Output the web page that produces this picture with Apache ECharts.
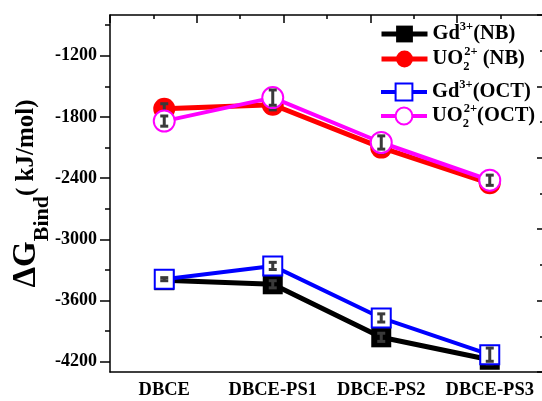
<!DOCTYPE html>
<html>
<head>
<meta charset="utf-8">
<script src="https://cdn.jsdelivr.net/npm/echarts@6/dist/echarts.min.js"></script>
<style>
  html, body { margin: 0; padding: 0; background: #fff; }
  #chart { width: 542px; height: 401px; }
</style>
</head>
<body>
<div id="chart"></div>
<script>
// Binding free energies (kJ/mol) per ligand
const categories = ['DBCE', 'DBCE-PS1', 'DBCE-PS2', 'DBCE-PS3'];
const gdNB  = [-3400, -3440, -3960, -4180];
const uoNB  = [-1720, -1680, -2100, -2450];
const gdOCT = [-3390, -3260, -3770, -4130];
const uoOCT = [-1840, -1610, -2050, -2420];
// Half-widths of the error bars
const gdNBErr  = [20, 35, 40, 40];
const uoNBErr  = [50, 50, 50, 40];
const gdOCTErr = [15, 35, 40, 65];
const uoOCTErr = [50, 75, 65, 50];
// Y axis labelled and minor tick positions
const yLabelTicks = [-4200, -3600, -3000, -2400, -1800, -1200];
const yMinorTicks = [-3900, -3300, -2700, -2100, -1500, -900];

const FONT = '"Liberation Serif", "Times New Roman", serif';
const AXIS = { color: '#000', width: 1.5 };

const chart = echarts.init(document.getElementById('chart'), null, { renderer: 'canvas' });

function errorBars(vals, errs, z) {
  return {
    type: 'custom',
    xAxisIndex: 0,
    yAxisIndex: 0,
    z: z,
    silent: true,
    data: vals.map((v, i) => [i, v - errs[i], v + errs[i]]),
    encode: { x: 0, y: [1, 2] },
    renderItem: function (params, api) {
      const lo = api.coord([api.value(0), api.value(1)]);
      const hi = api.coord([api.value(0), api.value(2)]);
      const w = 4;
      const st = { stroke: '#3a3a3a', lineWidth: 3 };
      return {
        type: 'group',
        children: [
          { type: 'line', shape: { x1: hi[0], y1: hi[1], x2: lo[0], y2: lo[1] }, style: st },
          { type: 'line', shape: { x1: hi[0] - w, y1: hi[1], x2: hi[0] + w, y2: hi[1] }, style: st },
          { type: 'line', shape: { x1: lo[0] - w, y1: lo[1], x2: lo[0] + w, y2: lo[1] }, style: st }
        ]
      };
    }
  };
}

const legendText = {
  'Gd3+(NB)':   '{m|Gd}{sup|3+}{m|(NB)}',
  'UO22+(NB)':  '{m|UO}{sub|2}{sup|2+}{m| (NB)}',
  'Gd3+(OCT)':  '{m|Gd}{sup|3+}{m|(OCT)}',
  'UO22+(OCT)': '{m|UO}{sub|2}{sup|2+}{m|(OCT)}'
};
const legendRich = {
  m:   { fontFamily: FONT, fontWeight: 'bold', fontSize: 20.5, color: '#000', lineHeight: 22 },
  sup: { fontFamily: FONT, fontWeight: 'bold', fontSize: 12.5, color: '#000', lineHeight: 13, padding: [0, 0, 15, 0] },
  sub: { fontFamily: FONT, fontWeight: 'bold', fontSize: 12.5, color: '#000', lineHeight: 13, padding: [15, 0, 0, 0], width: 1 }
};
const legendRows = [
  { name: 'Gd3+(NB)',   top: 20, line: 5 },
  { name: 'UO22+(NB)',  top: 45, line: 5 },
  { name: 'Gd3+(OCT)',  top: 78, line: 4 },
  { name: 'UO22+(OCT)', top: 102, line: 4 }
];

const option = {
  animation: false,
  backgroundColor: '#fff',
  grid: { left: 110, top: 15, width: 434, height: 357, containLabel: false, outerBoundsMode: 'none' },
  legend: legendRows.map(r => ({
    data: [r.name],
    left: 379,
    top: r.top,
    padding: 0,
    itemWidth: 46,
    itemHeight: 21,
    selectedMode: false,
    lineStyle: { width: r.line },
    formatter: n => legendText[n],
    textStyle: { rich: legendRich }
  })),
  xAxis: [
    {
      type: 'category', data: categories, position: 'bottom', boundaryGap: true,
      axisLine: { lineStyle: AXIS },
      axisTick: { alignWithLabel: true, length: 6, lineStyle: AXIS },
      axisLabel: { interval: 0, color: '#000', fontFamily: FONT, fontWeight: 'bold', fontSize: 18.5, margin: 9 },
      splitLine: { show: false }
    },
    {
      type: 'category', data: categories, position: 'bottom', boundaryGap: true,
      axisLine: { show: false },
      axisTick: { inside: true, length: 3, lineStyle: AXIS },
      axisLabel: { show: false },
      splitLine: { show: false }
    },
    {
      type: 'value', position: 'top', min: 0, max: 5, interval: 1,
      axisLine: { show: true, lineStyle: AXIS },
      axisTick: { inside: true, length: 8, lineStyle: AXIS },
      minorTick: { show: true, splitNumber: 2, length: 4, lineStyle: AXIS },
      axisLabel: { show: false },
      splitLine: { show: false }
    }
  ],
  yAxis: [
    {
      type: 'value', min: -4300, max: -800, position: 'left',
      axisLine: { show: true, lineStyle: AXIS },
      axisTick: { show: true, customValues: yLabelTicks, length: 10, lineStyle: AXIS },
      axisLabel: {
        customValues: yLabelTicks, margin: 13, color: '#000',
        fontFamily: FONT, fontWeight: 'bold', fontSize: 18,
        formatter: v => String(v)
      },
      splitLine: { show: false },
      name: '{big|ΔG}{sub|Bind}{m|( kJ/mol)}',
      nameLocation: 'middle',
      nameRotate: 90,
      nameGap: 66,
      nameMoveOverlap: false,
      nameTextStyle: {
        rich: {
          big: { fontFamily: FONT, fontWeight: 'bold', fontSize: 33, color: '#000', lineHeight: 35 },
          sub: { fontFamily: FONT, fontWeight: 'bold', fontSize: 22, color: '#000', lineHeight: 22, padding: [32, 0, 0, 0] },
          m:   { fontFamily: FONT, fontWeight: 'bold', fontSize: 25, color: '#000', lineHeight: 27 }
        }
      }
    },
    {
      type: 'value', min: -4300, max: -800, position: 'left',
      axisLine: { show: false },
      axisTick: { show: true, customValues: yMinorTicks, length: 5, lineStyle: AXIS },
      axisLabel: { show: false },
      splitLine: { show: false }
    },
    {
      type: 'value', min: 0, max: 5, interval: 1, position: 'right',
      axisLine: { show: true, lineStyle: AXIS },
      axisTick: { show: true, inside: true, length: 7, lineStyle: AXIS },
      minorTick: { show: true, splitNumber: 2, length: 4, lineStyle: AXIS },
      axisLabel: { show: false },
      splitLine: { show: false }
    }
  ],
  series: [
    {
      name: 'Gd3+(NB)', type: 'line', data: gdNB, z: 2,
      symbol: 'rect', symbolSize: 20, showSymbol: true,
      itemStyle: { color: '#000' }, lineStyle: { width: 5, color: '#000' }
    },
    errorBars(gdNB, gdNBErr, 3),
    {
      name: 'UO22+(NB)', type: 'line', data: uoNB, z: 4,
      symbol: 'circle', symbolSize: 22, showSymbol: true,
      itemStyle: { color: '#ff0000' }, lineStyle: { width: 5, color: '#ff0000' }
    },
    errorBars(uoNB, uoNBErr, 5),
    {
      name: 'Gd3+(OCT)', type: 'line', data: gdOCT, z: 6,
      symbol: 'rect', symbolSize: 19, showSymbol: true,
      itemStyle: { color: '#fff', borderColor: '#0000ff', borderWidth: 2 },
      lineStyle: { width: 4, color: '#0000ff' }
    },
    errorBars(gdOCT, gdOCTErr, 7),
    {
      name: 'UO22+(OCT)', type: 'line', data: uoOCT, z: 8,
      symbol: 'circle', symbolSize: 21, showSymbol: true,
      itemStyle: { color: '#fff', borderColor: '#ff00ff', borderWidth: 2 },
      lineStyle: { width: 4, color: '#ff00ff' }
    },
    errorBars(uoOCT, uoOCTErr, 9)
  ]
};

chart.setOption(option);
</script>
</body>
</html>
